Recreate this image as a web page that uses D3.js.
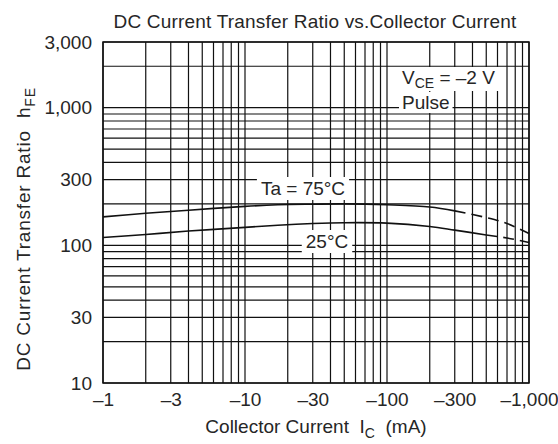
<!DOCTYPE html>
<html>
<head>
<meta charset="utf-8">
<script src="https://cdn.jsdelivr.net/npm/d3@7"></script>
<style>
  body { margin: 0; background: #fff; }
  svg { display: block; }
  text { font-family: "Liberation Sans", Arial, sans-serif; fill: #262626; white-space: pre; }
</style>
</head>
<body>
<svg id="chart" width="558" height="444"></svg>
<script>
// ---- data ----
const currents = [1, 2, 4, 10, 17, 30, 50, 100, 200, 300, 500, 700, 1000];   // |Ic| mA
const hfe75    = [161, 171, 180, 192, 197, 199, 200, 197, 190, 178, 159, 144, 122];
const hfe25    = [114, 120, 127, 135, 140, 144, 146, 145, 137, 129, 119, 113, 105];
const dashFrom75 = 300;   // dashed part starts here (mA)
const dashFrom25 = 500;
const xTickLabels = [1, 3, 10, 30, 100, 300, 1000];
const yTickLabels = [10, 30, 100, 300, 1000, 3000];

// ---- layout ----
const svg = d3.select("#chart");
const L = 103, R = 529, T = 42, B = 383;
const x = d3.scaleLog().domain([1, 1000]).range([L, R]);
const y = d3.scaleLog().domain([10, 3000]).range([B, T]);
const fs = 19;
const fmt = d3.format(",");

// grid
const grid = svg.append("g").attr("stroke", "#111").attr("stroke-width", 1.2);
grid.selectAll("line.v").data(x.ticks()).join("line")
  .attr("x1", d => x(d)).attr("x2", d => x(d)).attr("y1", T).attr("y2", B);
grid.selectAll("line.h").data(y.ticks()).join("line")
  .attr("y1", d => y(d)).attr("y2", d => y(d)).attr("x1", L).attr("x2", R);
svg.append("rect").attr("x", L).attr("y", T).attr("width", R - L).attr("height", B - T)
  .attr("fill", "none").attr("stroke", "#111").attr("stroke-width", 1.5);

// axes labels
const xAxis = svg.append("g").attr("transform", `translate(0,${B})`)
  .call(d3.axisBottom(x).tickValues(xTickLabels).tickSize(0).tickPadding(10)
        .tickFormat(d => "–" + fmt(d)));
const yAxis = svg.append("g").attr("transform", `translate(${L},0)`)
  .call(d3.axisLeft(y).tickValues(yTickLabels).tickSize(0).tickPadding(11)
        .tickFormat(d => fmt(d)));
[xAxis, yAxis].forEach(a => {
  a.select(".domain").remove();
  a.selectAll("text").attr("font-size", fs).attr("font-family", "Liberation Sans, Arial, sans-serif").attr("fill", "#262626");
});

// curves
const line = d3.line().x(d => x(d[0])).y(d => y(d[1])).curve(d3.curveCatmullRom.alpha(0.5));
function drawSeries(vals, dashFrom) {
  const pts = currents.map((c, i) => [c, vals[i]]);
  const solid = pts.filter(p => p[0] <= dashFrom);
  const dashed = pts.filter(p => p[0] >= dashFrom);
  svg.append("path").attr("d", line(solid)).attr("fill", "none")
    .attr("stroke", "#111").attr("stroke-width", 1.6);
  svg.append("path").attr("d", line(dashed)).attr("fill", "none")
    .attr("stroke", "#111").attr("stroke-width", 1.6).attr("stroke-dasharray", "11,6");
}
drawSeries(hfe75, dashFrom75);
drawSeries(hfe25, dashFrom25);

// annotations with white boxes
function boxed(build, pad) {
  const g = svg.append("g");
  const r = g.append("rect").attr("fill", "#fff");
  const t = build(g);
  const bb = t.node().getBBox();
  r.attr("x", bb.x - pad[0]).attr("y", bb.y - pad[1])
   .attr("width", bb.width + pad[0] * 2).attr("height", bb.height + pad[1] * 2);
  return g;
}
boxed(g => g.append("text").attr("x", 303).attr("y", 195).attr("text-anchor", "middle")
  .attr("font-size", fs).text("Ta = 75°C"), [4, 1]);
boxed(g => g.append("text").attr("x", 327).attr("y", 248).attr("text-anchor", "middle")
  .attr("font-size", fs).text("25°C"), [4, 1]);
boxed(g => {
  const t = g.append("text").attr("x", 402).attr("y", 84).attr("font-size", fs);
  t.append("tspan").text("V");
  t.append("tspan").attr("font-size", 14).attr("dy", 4).text("CE");
  t.append("tspan").attr("dy", -4).text(" = –2 V");
  return t;
}, [4, 0]);
boxed(g => g.append("text").attr("x", 402).attr("y", 109).attr("font-size", fs).text("Pulse"), [3, 0]);

// titles
svg.append("text").attr("x", 315).attr("y", 28).attr("text-anchor", "middle")
  .attr("font-size", fs).attr("letter-spacing", 0.2).text("DC Current Transfer Ratio vs.Collector Current");
const xl = svg.append("text").attr("x", 316).attr("y", 433).attr("text-anchor", "middle").attr("font-size", fs);
xl.append("tspan").text("Collector Current  I");
xl.append("tspan").attr("font-size", 14).attr("dy", 5).text("C");
xl.append("tspan").attr("dy", -5).text("  (mA)");
const yl = svg.append("text").attr("transform", "translate(30,229) rotate(-90)")
  .attr("text-anchor", "middle").attr("font-size", fs).attr("letter-spacing", 0.8);
yl.append("tspan").text("DC Current Transfer Ratio  h");
yl.append("tspan").attr("font-size", 14).attr("dy", 5).text("FE");
</script>
</body>
</html>
